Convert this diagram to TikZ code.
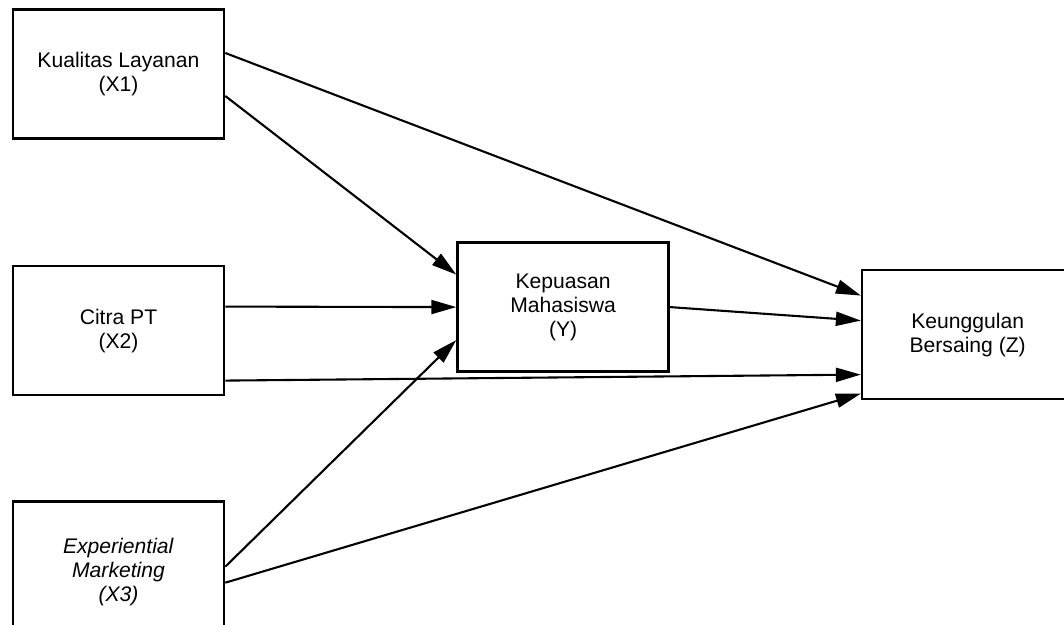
\documentclass[tikz,border=0pt]{standalone}
\usepackage{fontspec}
\setmainfont{Liberation Sans}
\usetikzlibrary{arrows.meta, positioning}
\tikzset{
  kotak/.style={rectangle, draw=black, line width=1.3pt, minimum width=105.5bp,
                minimum height=64.5bp, inner sep=2pt, align=center,
                font=\fontsize{10.6}{12}\selectfont},
  panah/.style={-{Triangle[length=12.5bp, width=7bp]}, line width=1.05pt, draw=black},
}

\begin{document}
\begin{tikzpicture}
        \useasboundingbox (-59.25bp,37bp) rectangle (472.75bp,-275.5bp);
        \node[kotak] (x1) at (0,0) {Kualitas Layanan \\ (X1)};
        \node[kotak, below=62.5bp of x1] (x2) {Citra PT \\ (X2)};
        \node[kotak, below=52bp of x2, minimum height=70.5bp] (x3) {\textit{Experiential} \\ \textit{Marketing} \\ \textit{(X3)}};
        \node[kotak, right=115.5bp of x2, yshift=11.75bp] (y) {Kepuasan \\ Mahasiswa \\ (Y)};
        \node[kotak, right=95.5bp of y, yshift=-13.75bp] (z) {Keunggulan \\ Bersaing (Z)};
        \draw[panah] ([yshift=10.5bp]x1.east) -- ([yshift=19.5bp]z.west);
        \draw[panah] ([yshift=-11bp]x1.east) -- ([yshift=16.25bp]y.west);
        \draw[panah] ([yshift=12bp]x2.east) -- (y.west);
        \draw[panah] ([yshift=-25bp]x2.east) -- ([yshift=-20bp]z.west);
        \draw[panah] ([yshift=2.75bp]x3.east) -- ([yshift=-16.5bp]y.west);
        \draw[panah] ([yshift=-5.25bp]x3.east) -- ([yshift=-29.5bp]z.west);
        \draw[panah] (y.east) -- ([yshift=7bp]z.west);
    \end{tikzpicture}
\end{document}
